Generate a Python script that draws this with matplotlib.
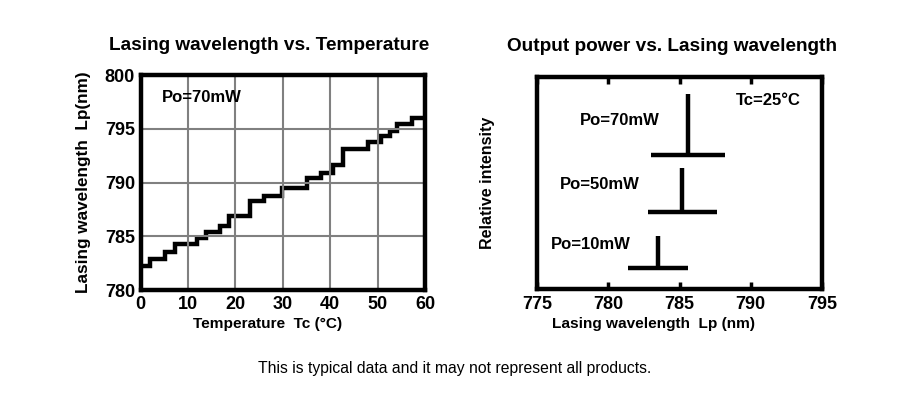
import matplotlib
matplotlib.use("Agg")
import matplotlib.pyplot as plt

plt.rcParams['font.family'] = ['Liberation Sans', 'DejaVu Sans']

# Lasing wavelength vs temperature (step curve)
temp_edges = [0, 2.0, 5.1, 7.2, 11.9, 13.8, 16.8, 18.7, 23.2, 26.0, 29.8,
              35.2, 38.0, 40.7, 42.7, 47.9, 50.7, 52.6, 54.0, 57.2, 60]
wavelength = [782.2, 782.9, 783.5, 784.3, 784.8, 785.4, 786.0, 786.9, 788.3,
              788.7, 789.5, 790.4, 790.9, 791.6, 793.1, 793.8, 794.3, 794.8,
              795.4, 796.0]

# Output power spectra (peak, line span, relative height)
powers = ['Po=70mW', 'Po=50mW', 'Po=10mW']
peak_nm = [785.6, 785.2, 783.5]
base_left = [783.0, 782.8, 781.4]
base_right = [788.2, 787.6, 785.6]
base_level = [0.633, 0.3625, 0.10]
peak_level = [0.922, 0.570, 0.25]
label_x = [778.0, 776.6, 776.0]
label_y = [0.797, 0.495, 0.21]

fig = plt.figure(figsize=(9.03, 3.97), dpi=100)

# ---- left chart
ax1 = fig.add_axes([0.1556, 0.2695, 0.3150, 0.5415])
ax1.stairs(wavelength, temp_edges, color='black', linewidth=3.2, baseline=None)
ax1.set_xlim(0, 60)
ax1.set_ylim(780, 800)
ax1.set_xticks(range(0, 61, 10))
ax1.set_yticks(range(780, 801, 5))
ax1.grid(True, color='#808080', linewidth=1.5)
ax1.tick_params(length=0, labelsize=13, pad=4)
for lbl in ax1.get_xticklabels() + ax1.get_yticklabels():
    lbl.set_fontweight('bold')
for s in ax1.spines.values():
    s.set_linewidth(3.2)
ax1.set_xlabel('Temperature  Tc (°C)', fontsize=11.1, fontweight='bold',
               labelpad=3, x=0.446)
ax1.set_ylabel('Lasing wavelength  Lp(nm)', fontsize=12.3, fontweight='bold', labelpad=10)
ax1.set_title('Lasing wavelength vs. Temperature', fontsize=13.7,
              fontweight='bold', pad=18, x=0.453)
ax1.text(4.6, 797.9, 'Po=70mW', fontsize=12, fontweight='bold', va='center')

# ---- right chart
ax2 = fig.add_axes([0.5947, 0.2720, 0.3156, 0.5340])
for i in range(len(powers)):
    ax2.plot([peak_nm[i], peak_nm[i]], [base_level[i], peak_level[i]],
             color='black', linewidth=3.2, solid_capstyle='butt')
    ax2.plot([base_left[i], base_right[i]], [base_level[i], base_level[i]],
             color='black', linewidth=3.2, solid_capstyle='butt')
    ax2.text(label_x[i], label_y[i], powers[i], fontsize=12,
             fontweight='bold', va='center')
ax2.text(793.5, 0.89, 'Tc=25°C', fontsize=12, fontweight='bold',
         va='center', ha='right')
ax2.set_xlim(775, 795)
ax2.set_ylim(0, 1)
ax2.set_xticks(range(775, 796, 5))
ax2.set_yticks([])
ax2.tick_params(axis='x', direction='in', length=5, width=2.5,
                top=True, labelsize=13, pad=5)
for lbl in ax2.get_xticklabels():
    lbl.set_fontweight('bold')
for s in ax2.spines.values():
    s.set_linewidth(3.2)
ax2.set_xlabel('Lasing wavelength  Lp (nm)', fontsize=11.1, fontweight='bold',
               labelpad=3, x=0.41)
ax2.set_ylabel('Relative intensity', fontsize=11.5, fontweight='bold', labelpad=30)
ax2.set_title('Output power vs. Lasing wavelength', fontsize=13.7,
              fontweight='bold', pad=19, x=0.474)

fig.text(0.503, 0.073, 'This is typical data and it may not represent all products.',
         fontsize=11.3, ha='center', va='center')

fig.savefig('out.png', dpi=100)
